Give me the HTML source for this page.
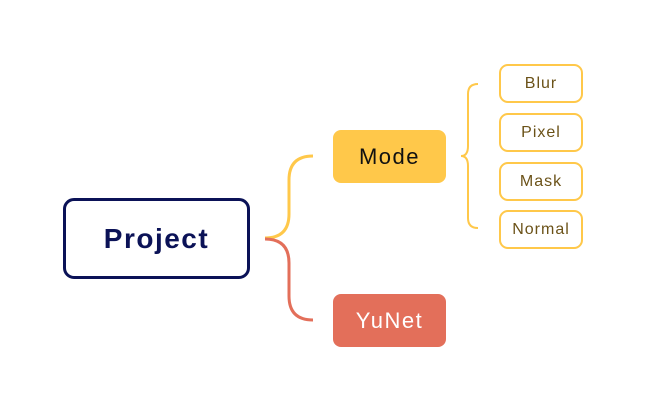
<!DOCTYPE html>
<html><head><style>
body{margin:0;width:646px;height:411px;background:#fff;overflow:hidden;position:relative;font-family:"Liberation Sans",sans-serif}
.b{position:absolute;box-sizing:border-box;display:flex;align-items:center;justify-content:center}
.leaf{left:499px;width:84px;height:39px;border:2px solid #ffc84a;border-radius:9px;color:#6b5218;font-size:16px;letter-spacing:1px;background:#fff}
</style></head><body>
<svg width="646" height="411" style="position:absolute;left:0;top:0" fill="none">
<path d="M265 238 Q289 238 289 214 L289 180 Q289 156 313 156" stroke="#ffc84a" stroke-width="3"/>
<path d="M265 239 Q289 239 289 263 L289 296 Q289 320 313 320" stroke="#e36f5a" stroke-width="3"/>
<path d="M478 84 Q468 84 468 94 L468 146 Q468 156 461 156 Q468 156 468 166 L468 218 Q468 228 478 228" stroke="#ffc84a" stroke-width="2"/>
</svg>
<div class="b" style="left:63px;top:198px;width:187px;height:81px;border:3px solid #0b1257;border-radius:11px;color:#0b1257;font-size:28px;font-weight:bold;letter-spacing:1.5px">Project</div>
<div class="b" style="left:333px;top:130px;width:113px;height:53px;background:#ffc84a;border-radius:8px;color:#111;font-size:22px;letter-spacing:1.5px">Mode</div>
<div class="b" style="left:333px;top:294px;width:113px;height:53px;background:#e36f5a;border-radius:8px;color:#fff;font-size:22px;letter-spacing:1.5px">YuNet</div>
<div class="b leaf" style="top:64px">Blur</div>
<div class="b leaf" style="top:113px">Pixel</div>
<div class="b leaf" style="top:162px">Mask</div>
<div class="b leaf" style="top:210px">Normal</div>
</body></html>
